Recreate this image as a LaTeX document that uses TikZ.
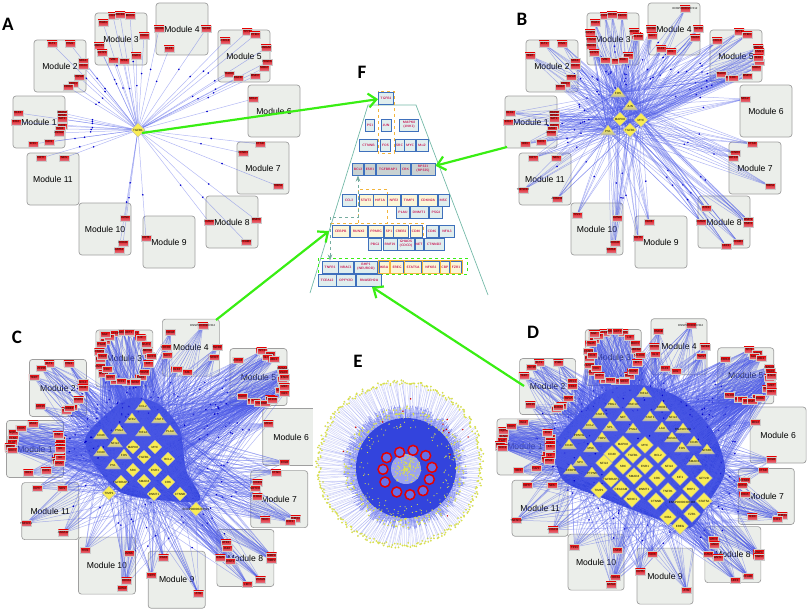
\documentclass[tikz,border=0pt]{standalone}
\usepackage{fontspec}
\setmainfont{Liberation Sans}
\newfontfamily\letterfont{Carlito}
\usepackage{xcolor}
\usepackage{tikz}
\usetikzlibrary{shapes.geometric, arrows.meta, calc}

\definecolor{edgeblue}{HTML}{4A58E6}
\definecolor{coreblue}{HTML}{3344DD}
\definecolor{modfill}{HTML}{EBEEEA}
\definecolor{hubyellow}{HTML}{F9EC55}
\definecolor{genepink}{HTML}{E07A8A}
\definecolor{fblue}{HTML}{3F70BC}
\definecolor{fcyan}{HTML}{E0EEEE}
\definecolor{fgray}{HTML}{C9D2D2}
\definecolor{fcream}{HTML}{FBF6D8}
\definecolor{fred}{HTML}{C8104E}
\definecolor{forange}{HTML}{F3B53C}
\definecolor{ftrap}{HTML}{74B9A8}
\definecolor{arrowgreen}{HTML}{39EE13}
\definecolor{speck}{HTML}{D9E04E}

\pgfdeclarelayer{bg}
\pgfdeclarelayer{edges}
\pgfsetlayers{bg,edges,main}

\tikzset{
  module/.style={draw=gray!75, fill=modfill, rounded corners=3pt, line width=.7pt,
    minimum width=#1, minimum height=#1, inner sep=0pt, font=\fontsize{8.6}{9}\selectfont},
  gene/.style={draw=gray!40, top color=red!90!black, bottom color=genepink, inner sep=0pt,
    minimum width=10, minimum height=6, font=\fontsize{2.8}{3}\selectfont},
  tri/.style={isosceles triangle, isosceles triangle stretches, shape border rotate=90,
    draw=gray!60, top color=hubyellow, bottom color=gray!60, middle color=hubyellow, inner sep=0pt,
    minimum width=15, minimum height=10, font=\fontsize{3}{3}\selectfont},
  dia/.style={diamond, draw=gray!60, fill=hubyellow, inner sep=0pt,
    minimum width=14, minimum height=14, font=\fontsize{3}{3}\selectfont},
  dib/.style={dia, minimum width=17, minimum height=17},
  spoke/.style={edgeblue, opacity=.42, line width=.5pt},
  edgedot/.style={blue!80!black},
  panelletter/.style={font=\letterfont\bfseries\fontsize{19}{19}\selectfont},
  fbox/.style={draw=fblue, line width=.9pt, fill=#1, text=fred, inner sep=0pt, minimum height=12,
    align=center, font=\sffamily\bfseries\fontsize{3.3}{3.8}\selectfont},
  fdash/.style={forange, dashed, line width=.8pt},
  bigarrow/.style={arrowgreen, line width=2.2pt, -{Straight Barb[length=8pt,width=14pt]}}
}

% gene labels in the coordinates of panel A: first 52 = A, up to 73 = B, rest = C and D
\def\genelist{18/113/ELK1,16/122/INS2,62/113/RRAS2,62/116/RPS6,62/119/SAT1,62/126/CAV2,60/129/GJA1,59/133/ANXA2,33/144/IRF1,49/142/CAV1,
  52/44/FLT1,70/44/PIM1,83/61/MCL1,83/66/CD44,79/77/HSPA5,73/84/CDH1,68/87/CDH2,
  113/16/CXCR4,120/15/ABCB1,130/16/BIRC5,103/23/ITGB1,99/46/HMOX1,102/53/GSTP1,113/60/VIM,124/61/TP63,136/56/EGR1,144/36/CDK4,
  159/29/FOXO1,206/29/TGFB2,169/49/KLF4,
  225/41/CXCL8,247/32/TP73,255/35/PTEN,266/48/HMGA2,267/62/PDGFA,264/68/SOD2,229/74/TALDO,238/78/EGFR,255/76/MMP2,
  253/99/MCL2,
  260/144/CTSD,243/153/CCND1,278/186/THBS1,
  209/222/ICAM1,256/220/MMP9,246/242/VCAM1,
  146/238/KRT5,
  125/218/LMNA,123/243/HOXA1,119/250/GATA1,
  41/158/KRT7,64/158/NES,
  38/56/TERT,98/33/CASP3,99/40/PTGS2,142/32/ABCG2,146/37/ALDH1,131/60/BAX,
  193/9/ENSP00000237412,160/36/GLI1,179/52/AXL,203/38/TWIST,
  267/52/SNAI1,266/58/ZEB1,241/78/LOX,
  241/158/NOTCH,
  214/208/ATF3,256/224/TIMP2,234/246/LEF1,
  157/222/PAX6,
  85/215/TP21,
  31/190/TNFSF12,65/199/ANXA12,
  19/112/FLNA,18/116/PLAT,16/120/MMP1,19/107/NQO1,26/103/CDH5,18/123/SDC1,62/122/IL6,62/130/IL8,61/135/ATM2,60/109/FN1,37/99/JAG1,
  45/48/ZFP36,44/83/GDF15,70/85/ERBB2,
  100/26/ITGA5,101/37/CD24,105/49/CD9,108/56/SPP1,118/60/TFF1,131/61/SOX2,139/52/POU5F,143/44/KIT,141/26/MUC1,136/20/LIF,125/15/AKT1,107/19/PIK3,103/17/NGF,
  163/15/HMGB,
  268/56/ESR2,268/65/MET,268/71/IGF1,245/80/PGR,250/80/BMP2,257/77/RHOA,252/38/GLUL,258/40/ABL1,
  268/134/FOLR,
  243/166/RXRA,250/187/TFRC,273/189/E2F1,
  215/213/JAK2,218/225/WNT1,
  189/255/ATM}

% hubs of each panel, at picture coordinates
\def\hubsa{138/130/TGFB1/dia}
\def\hubsb{618/93/FOS/tri,630/106/JUN/tri,608/131/PS1/tri,620/119/MAPK8/dia,641/120/MYC/dia,630/130/TGFB1/dia}
\def\hubsc{143/406/CCL2/tri,132/419/NFE2/tri,159/419/STAT3/tri,119/430/PSG4/tri,143/432/HIF1A/tri,170/431/PLAU/tri,
  101/435/CD46/tri,115/443/NFIL3/tri,101/452/CD40/tri,124/455/FOS/tri,113/465/PS1/tri,
  133/447/MAPK8/dia,155/447/MYC/dia,144/457/TGFB1/dia,168/459/BCL2/dia,133/470/SRC/dia,155/470/ESR1/dia,
  144/481/SMAD4/dia,168/482/CRK/dia,121/482/TGFBRAP1/dia,109/493/TIMP1/dia,154/494/DNMT1/dia,180/494/CTNNB/dia,196/509/ENSP00000237521/dia}
\def\hubsd{644/393/HIF1A/tri,612/404/PBG1/tri,633/404/RNF19/tri,662/407/CREB1/tri,600/414/STAT3/tri,623/417/NET/tri,650/417/STAT1/tri,673/417/NFIL3/tri,
  590/425/CCL2/tri,610/427/SP1/tri,633/429/PSG4/tri,662/428/LAU/tri,683/429/RNASEH2A/tri,579/435/PPARG/tri,602/438/TOP2/tri,672/438/RUNX2/tri,694/442/CD46/tri,
  569/445/CD40/tri,591/448/MSC/tri,682/448/FOS/tri,707/450/NFKB1/tri,580/462/SP3/tri,694/461/SMAD3/tri,571/470/CEBPB/tri,592/473/PTPN6/tri,
  623/444/MAPK8/dib,645/445/MYC/dib,612/454/CD40/dib,633/455/TGFB1/dib,658/455/BCL2/dib,604/463/NFIL3/dib,623/466/SRC/dib,645/466/ESR1/dib,669/466/NFIL3/dib,
  634/476/SMAD4/dib,657/478/CRK/dib,680/477/KIF1/dib,704/478/GFY2D/dib,611/479/TGFBRAP1/dib,621/489/CEACAM/dib,644/489/DNMT1/dib,668/491/TNFR1/dib,691/489/BHP1/dib,
  599/490/TIMP1/dib,632/499/NR3C1/dib,656/501/CTNNB/dib,682/502/ENSP00000306336/dib,704/501/STAT5A/dib,668/517/IKBA/dib,692/514/FZR1/dib,680/526/EREG/dib}

% prefix, origin x, origin y, scale, genes shown, hub list, box size, edge thinning, dot thinning
\newcommand{\drawpanel}[9]{
  \begin{scope}[shift={(#2,#3)}, x=#4pt, y=-#4pt]
    \begin{pgfonlayer}{bg}
      \foreach \mx/\my [count=\mi] in {39/122,60/66,121/39,182/29,244/56,274/111,263/168,232/222,169/242,105/229,53/179}
        \node[module=#7] (m#1\mi) at (\mx,\my) {Module \mi};
    \end{pgfonlayer}
    \foreach \gx/\gy/\gname [count=\gi] in \genelist {
      \ifnum\gi>#5\else
        \node[gene] (g#1\gi) at (\gx,\gy) {\makebox[0pt]{\gname}};
        \xdef\ngene{\gi}
      \fi
    }
  \end{scope}
  \foreach \hx/\hy/\hname/\hkind [count=\hi] in #6 {
    \node[\hkind] (h#1\hi) at (\hx,\hy) {\makebox[0pt]{\hname}};
    \xdef\nhub{\hi}
  }
  \begin{pgfonlayer}{edges}
    \foreach \hi in {1,...,\nhub} {
      \foreach \gi in {1,...,\ngene} {
        \pgfmathtruncatemacro\pick{mod(\hi*5+\gi*3,#8)}
        \ifnum\pick=0
          \draw[spoke] (h#1\hi) -- (g#1\gi);
          \pgfmathtruncatemacro\pickdot{mod(\hi+\gi,#9)}
          \ifnum\pickdot=0
            \fill[edgedot] ($(h#1\hi)!.6!(g#1\gi)$) circle (.9);
          \fi
        \fi
      }
    }
  \end{pgfonlayer}
}

% one row of the pyramid: y, fill colour, list of x/width/name/text
\newcommand{\frow}[3]{
  \foreach \bx/\bw/\bname/\btext in {#3}
    \node[fbox=#2, minimum width=\bw] (\bname) at (\bx,#1) {\btext};
}

\begin{document}
\begin{tikzpicture}[x=1pt, y=-1pt]
  \useasboundingbox (0,0) rectangle (810,610);
  % panels A to D
  \drawpanel{a}{0}{0}{1}{52}{\hubsa}{52}{1}{1}
  \drawpanel{b}{492}{0}{1}{73}{\hubsb}{52}{1}{5}
  \begin{pgfonlayer}{edges}
    \fill[coreblue] plot[smooth cycle] coordinates {(130,398) (160,405) (180,430) (186,470) (200,500) (160,500) (120,492) (95,465) (85,440) (100,420)};
    \fill[coreblue] plot[smooth cycle] coordinates {(605,392) (640,385) (680,398) (712,430) (725,470) (710,500) (690,528) (660,520) (600,497) (563,480) (555,445) (575,418)};
  \end{pgfonlayer}
  \drawpanel{c}{-7.5}{316}{1.09}{999}{\hubsc}{57}{2}{9}
  \drawpanel{d}{483}{315.5}{1.077}{999}{\hubsd}{56}{3}{11}
  \node[panelletter] (laba) at (8,24) {A};
  \node[panelletter] (labb) at (522,19) {B};
  \node[panelletter] (labc) at (17,337) {C};
  \node[panelletter] (labd) at (533,332) {D};
  \node[panelletter] (labe) at (358,361) {E};
  \node[panelletter] (labf) at (362,72) {F};
  % panel E, over the cut edge of module 6 of C
  \fill[white] (313,400) rectangle (330,470);
  \pgfmathsetseed{17}
  \foreach \i in {1,...,320} {
    \pgfmathsetmacro\ang{\i/320*360+rnd}
    \pgfmathsetmacro\rad{79+5*rnd}
    \pgfmathsetmacro\angin{\ang+8*rnd-4}
    \draw[edgeblue!70, opacity=.35, line width=.5pt] ($(405,468)+(\angin:46)$) -- ($(400,464)+(\ang:\rad)$);
    \fill[speck] ($(400,464)+(\ang:\rad)$) circle (1);
  }
  \foreach \i in {1,...,360} {
    \pgfmathsetmacro\ang{\i/360*360}
    \pgfmathsetmacro\rad{54+9*rnd}
    \draw[edgeblue, opacity=.6, line width=.6pt] ($(405,468)+(\ang:44)$) -- ($(405,467)+(\ang:\rad)$);
  }
  \fill[coreblue] (406,468) circle (50);
  \fill[edgeblue!55] (406,469) circle (15);
  \foreach \i in {1,...,190} {
    \pgfmathsetmacro\ang{360*rnd}
    \pgfmathsetmacro\rad{50+11*rnd}
    \fill[speck] ($(405,467)+(\ang:\rad)$) circle (.9);
  }
  \foreach \i in {1,...,130} {
    \pgfmathsetmacro\ang{360*rnd}
    \pgfmathsetmacro\rad{38+13*rnd}
    \fill[speck] ($(406,468)+(\ang:\rad)$) circle (.6);
  }
  \foreach \i in {1,...,130} {
    \pgfmathsetmacro\ang{360*rnd}
    \pgfmathsetmacro\rad{15*rnd}
    \fill[speck] ($(406,469)+(\ang:\rad)$) circle (.7);
  }
  \foreach \i in {1,...,14} {
    \pgfmathsetmacro\ang{360*rnd}
    \pgfmathsetmacro\rad{45+35*rnd}
    \fill[red!80!black] ($(403,466)+(\ang:\rad)$) circle (.8);
  }
  % red rings
  \foreach \rx/\ry in {260/263,299/247,339/241,377/257,396/292,388/328,369/362,330/374,290/366,255/336,249/298}
    \draw[red!90!black, line width=1.5pt, fill=edgeblue!85] ({300+\rx/3},{370+\ry/3}) circle (5);
  % panel F
  \draw[ftrap, line width=.7pt] (310,293) -- (368,105) -- (416,105) -- (488,295);
  \draw[arrowgreen, dashed, line width=.8pt] (318,258) rectangle (467,274);
  \draw[fdash] (378,91) rectangle (394,153);
  \draw[fdash] (358,223) -- (358,189) -- (387,189) -- (387,223);
  \draw[fdash] (330,223) rectangle (423,237);
  \frow{98}{fcyan}{386/15/tgfb/TGFB1}
  \frow{125}{fcyan}{370/9/psa/PS1, 386/10/jun/JUN, 409/19/mapk/{MAPK8\\(JNK1)}}
  \frow{145}{fcyan}{368.5/18/ctnnb/CTNNB, 385.5/10/fos/FOS, 399.5/9/src/SRC, 410/10.5/myc/MYC, 422/12/mxi/Mxi2}
  \frow{169}{fgray}{358/11/bcl/BCL2, 370/11/esr/ESR1, 388/24/tgfbr/TGFBRAP1, 405.5/10/crk/CRK, 423/24/rps/{RPS21\\(RPS25)}}
  \frow{200}{fcyan}{349/14/ccl/CCL2, 443.5/11/msc/MSC}
  \frow{200}{fcream}{366/14/stat/STAT3, 380/14/hif/HIF1A, 394/13/nfe/NFE2, 409/16/timp/TIMP1, 428/19/cdkn/CDKN2A}
  \frow{212}{fcyan}{403/13/plau/PLAU, 419/18/dnmt/DNMT1, 436/13/psg/PSG4}
  \frow{231}{fcream}{340.7/17/cebpb/CEBPB, 358.7/17/runx/RUNX2, 376/15/pparg/PPARG, 389/9/spa/SP1, 401/15/creb/CREB1, 416/12/cdf/CD40}
  \frow{231}{fcyan}{432/12/cds/CD46, 447/15/nfil/NFIL3}
  \frow{244}{fcyan}{375/13/pbg/PBG1, 390/14/rnf/RNF19, 406/17/ghad/{GHADS\\(CDCD)}, 419/8/net/NET, 434/20/ctnnd/CTNND2}
  \frow{267}{fcyan}{330/16/tnfr/TNFR1, 346/15/nrac/NRAC1, 366/23/bhp/{BHP1\\(NEUROD)}}
  \frow{267}{fcream}{384/10/ikba/IKBA, 397/13/ereg/EREG, 413/17/statf/STAT5A, 431/17/nfkb/NFKB1, 445/9/cbp/CBP, 456/11/fzr/FZR1}
  \foreach \bname in {ikba,ereg,statf,nfkb,cbp,fzr}
    \draw[forange, line width=.9pt] (\bname.south west) rectangle (\bname.north east);
  \frow{280}{fcyan}{327/18/tceal/TCEAL2, 346/19/opfy/OPFY2D, 369/25/rnas/RNASEH2A}
  \coordinate (fbend) at (330,217);
  \draw[<->, >=Stealth, ftrap!80!gray, dashed, line width=.7pt] (bcl.south) |- (fbend) -| (tnfr.north);
  % arrows between the panels
  \coordinate (froma) at (142,133);
  \coordinate (fromb) at (507,147);
  \coordinate (fromc) at (216,320);
  \coordinate (fromd) at (524,386);
  \coordinate (toc) at (329,231);
  \coordinate (tod) at (372,287);
  \draw[bigarrow] (froma) -- (tgfb);
  \draw[bigarrow] (fromb) -- (rps);
  \draw[bigarrow] (fromc) -- (toc);
  \draw[bigarrow] (fromd) -- (tod);
\end{tikzpicture}
\end{document}
